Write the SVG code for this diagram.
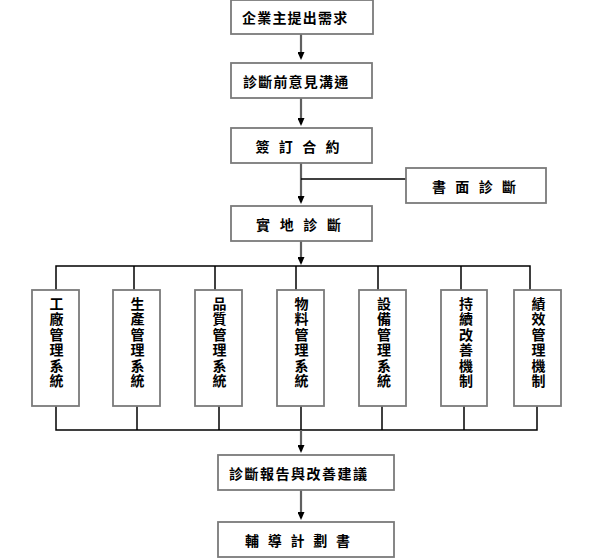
<svg xmlns="http://www.w3.org/2000/svg" width="594" height="560" viewBox="0 0 594 560">
<style>
.box{fill:#fff;stroke:#7a7a7a;stroke-width:1.8}
.t{font-family:"Noto Sans CJK TC","Noto Sans CJK SC",sans-serif;font-size:14px;font-weight:700;fill:#000;text-anchor:middle;dominant-baseline:central}
.flow{stroke:#606060;stroke-width:2.2;fill:none}
.ln{stroke:#000;stroke-width:1.5;fill:none}
</style>
<defs>
<marker id="ah" viewBox="0 0 8 7" refX="6" refY="3.5" markerWidth="8" markerHeight="7" markerUnits="userSpaceOnUse" orient="auto">
<path d="M0,0 L8,3.5 L0,7 z" fill="#000"/>
</marker>
</defs>
<rect width="594" height="560" fill="#fff"/>
<g id="connectors">
<line class="flow" x1="301" y1="34" x2="301" y2="58" marker-end="url(#ah)"/>
<line class="flow" x1="301" y1="98" x2="301" y2="124" marker-end="url(#ah)"/>
<line class="flow" x1="301" y1="163" x2="301" y2="202" marker-end="url(#ah)"/>
<line class="ln" x1="301" y1="179" x2="406" y2="179"/>
<line class="flow" x1="301" y1="241" x2="301" y2="263" marker-end="url(#ah)"/>
<polyline class="ln" points="56,290 56,266 530,266 530,290"/>
<line class="ln" x1="134" y1="266" x2="134" y2="290"/>
<line class="ln" x1="215" y1="266" x2="215" y2="290"/>
<line class="ln" x1="296" y1="266" x2="296" y2="290"/>
<line class="ln" x1="378" y1="266" x2="378" y2="290"/>
<line class="ln" x1="461" y1="266" x2="461" y2="290"/>
<polyline class="ln" points="56,406 56,430 537,430 537,406"/>
<line class="ln" x1="137" y1="406" x2="137" y2="430"/>
<line class="ln" x1="219" y1="406" x2="219" y2="430"/>
<line class="ln" x1="301" y1="406" x2="301" y2="430"/>
<line class="ln" x1="382" y1="406" x2="382" y2="430"/>
<line class="ln" x1="464" y1="406" x2="464" y2="430"/>
<line class="flow" x1="301" y1="430" x2="301" y2="451" marker-end="url(#ah)"/>
<line class="flow" x1="301" y1="490" x2="301" y2="518" marker-end="url(#ah)"/>
</g>
<g id="n1"><rect class="box" x="231" y="0" width="142" height="34"/><text class="t" x="249 264.2 279.4 294.6 309.8 325 340.2" y="17">企業主提出需求</text></g>
<g id="n2"><rect class="box" x="231" y="63" width="141" height="35"/><text class="t" x="250 265.2 280.4 295.6 310.8 326 341.2" y="80.5">診斷前意見溝通</text></g>
<g id="n3"><rect class="box" x="231" y="128" width="141" height="35"/><text class="t" x="262.5 274.2 285.8 297.5 309.2 320.8 332.5" y="145.5">簽 訂 合 約</text></g>
<g id="n4"><rect class="box" x="406" y="168" width="140" height="35"/><text class="t" x="439 450.7 462.3 474 485.7 497.3 509" y="185.5">書 面 診 斷</text></g>
<g id="n5"><rect class="box" x="231" y="206" width="141" height="35"/><text class="t" x="263 274.8 286.7 298.5 310.3 322.2 334" y="223.5">實 地 診 斷</text></g>
<g id="s1"><rect class="box" x="32" y="290" width="47" height="116"/><text class="t" x="56.5 56.5 56.5 56.5 56.5 56.5" y="303 318.4 333.8 349.2 364.6 380">工廠管理系統</text></g>
<g id="s2"><rect class="box" x="113" y="290" width="47" height="116"/><text class="t" x="137.5 137.5 137.5 137.5 137.5 137.5" y="303 318.4 333.8 349.2 364.6 380">生產管理系統</text></g>
<g id="s3"><rect class="box" x="195" y="290" width="47" height="116"/><text class="t" x="219.5 219.5 219.5 219.5 219.5 219.5" y="303 318.4 333.8 349.2 364.6 380">品質管理系統</text></g>
<g id="s4"><rect class="box" x="277" y="290" width="47" height="116"/><text class="t" x="301.5 301.5 301.5 301.5 301.5 301.5" y="303 318.4 333.8 349.2 364.6 380">物料管理系統</text></g>
<g id="s5"><rect class="box" x="359" y="290" width="47" height="116"/><text class="t" x="384 384 384 384 384 384" y="303 318.4 333.8 349.2 364.6 380">設備管理系統</text></g>
<g id="s6"><rect class="box" x="441" y="290" width="46" height="116"/><text class="t" x="466 466 466 466 466 466" y="303 318.4 333.8 349.2 364.6 380">持續改善機制</text></g>
<g id="s7"><rect class="box" x="514" y="290" width="47" height="116"/><text class="t" x="538.5 538.5 538.5 538.5 538.5 538.5" y="303 318.4 333.8 349.2 364.6 380">績效管理機制</text></g>
<g id="n6"><rect class="box" x="218" y="455" width="176" height="35"/><text class="t" x="236 251.5 267 282.5 298 313.5 329 344.5 360" y="472.5">診斷報告與改善建議</text></g>
<g id="n7"><rect class="box" x="218" y="522" width="176" height="35"/><text class="t" x="252 263.4 274.8 286.1 297.5 308.9 320.3 331.6 343" y="539.5">輔 導 計 劃 書</text></g>
</svg>
